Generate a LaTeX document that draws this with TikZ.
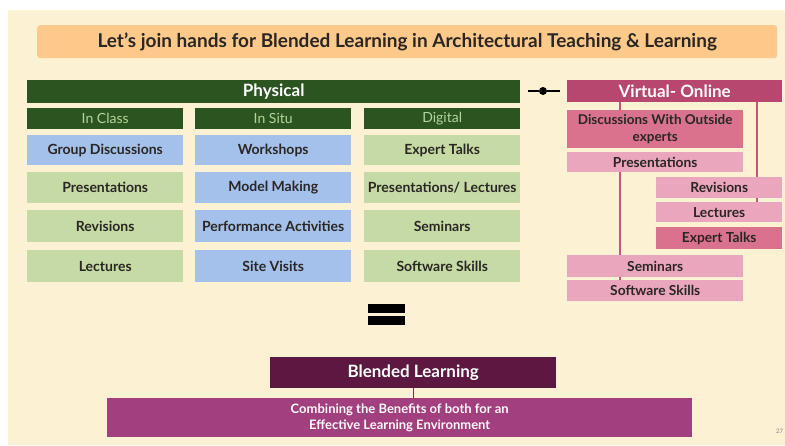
\documentclass[tikz,border=0pt]{standalone}
\usepackage{fontspec}
\setmainfont{Lato}
\usetikzlibrary{calc}
\definecolor{cream}{HTML}{FDF1D4}
\definecolor{titleor}{HTML}{FDC98B}
\definecolor{dkgreen}{HTML}{2C5421}
\definecolor{hdtext}{HTML}{B3D49A}
\definecolor{bluebox}{HTML}{A3C1EA}
\definecolor{grnbox}{HTML}{C6DAA5}
\definecolor{virt}{HTML}{B8476F}
\definecolor{pinkdk}{HTML}{D9728C}
\definecolor{pinklt}{HTML}{E9A6BC}
\definecolor{pinkln}{HTML}{C4557E}
\definecolor{blend}{HTML}{5C1840}
\definecolor{combine}{HTML}{A23F7E}
\definecolor{txt}{HTML}{2A2624}
\tikzset{
  box/.style={anchor=north west, inner sep=0pt, align=center, font=\bfseries\fontsize{14}{15}\selectfont, text=txt},
  hdr/.style={box, fill=dkgreen, text=hdtext, font=\fontsize{14}{15}\selectfont, minimum height=21pt},
  cell/.style={box, minimum width=156pt},
  vbox/.style={box, font=\bfseries\fontsize{13.8}{14.5}\selectfont},
  conn/.style={draw=pinkln, line width=1.4pt},
}
\begin{document}
\begin{tikzpicture}[x=1pt,y=-1pt]
\useasboundingbox (0,0) rectangle (785,445);
\fill[white] (0,0) rectangle (785,445);
\fill[cream] (8,10) rectangle (785,445);
% title
\node[box, fill=titleor, rounded corners=3pt, minimum width=740pt, minimum height=33pt,
  font=\bfseries\fontsize{19}{21}\selectfont] (title) at (37,25)
  {Let’s join hands for Blended Learning in Architectural Teaching \& Learning};
% physical
\node[box, fill=dkgreen, text=white, minimum width=493pt, minimum height=23pt,
  font=\bfseries\fontsize{17}{18}\selectfont] (phys) at (27,80) {Physical};
\node[hdr, minimum width=156pt] (hclass) at (27,108) {In Class};
\node[hdr, minimum width=156pt] (hsitu) at (195,108) {In Situ};
\node[hdr, minimum width=156pt] (hdig) at (364,108) {Digital};
% column 1
\node[cell, fill=bluebox, minimum height=30pt] (c11) at (27,135) {Group Discussions};
\node[cell, fill=grnbox, minimum height=31pt] (c12) at (27,172) {Presentations};
\node[cell, fill=grnbox, minimum height=32pt] (c13) at (27,210) {Revisions};
\node[cell, fill=grnbox, minimum height=32pt] (c14) at (27,250) {Lectures};
% column 2
\node[cell, fill=bluebox, minimum height=30pt] (c21) at (195,135) {Workshops};
\node[cell, fill=bluebox, minimum height=31pt] (c22) at (195,172) {Model Making};
\node[cell, fill=bluebox, minimum height=32pt] (c23) at (195,210) {Performance Activities};
\node[cell, fill=bluebox, minimum height=32pt] (c24) at (195,250) {Site Visits};
% column 3
\node[cell, fill=grnbox, minimum height=30pt] (c31) at (364,135) {Expert Talks};
\node[cell, fill=grnbox, minimum height=31pt] (c32) at (364,172) {Presentations/ Lectures};
\node[cell, fill=grnbox, minimum height=32pt] (c33) at (364,210) {Seminars};
\node[cell, fill=grnbox, minimum height=32pt] (c34) at (364,250) {Software Skills};
% link
\coordinate (la) at (528,91);
\coordinate (lb) at (560,91);
\node[circle, fill=black, inner sep=0pt, minimum size=8pt] (ldot) at (543,91) {};
\draw[line width=2pt] (la) -- (ldot) -- (lb);
% virtual
\node[box, fill=virt, text=white, minimum width=215pt, minimum height=22pt,
  font=\bfseries\fontsize{17}{18}\selectfont] (virt) at (567,80) {Virtual- Online};
\node[vbox, fill=pinkdk, minimum width=176pt, minimum height=38pt,
  font=\bfseries\fontsize{13.5}{17.5}\selectfont] (disc) at (567,110)
  {Discussions With Outside\\experts};
\node[vbox, fill=pinklt, minimum width=176pt, minimum height=20pt] (pres) at (567,152) {Presentations};
\node[vbox, fill=pinklt, minimum width=126pt, minimum height=21pt] (rev) at (656,177) {Revisions};
\node[vbox, fill=pinklt, minimum width=126pt, minimum height=20pt] (lec) at (656,202) {Lectures};
\node[vbox, fill=pinkdk, minimum width=126pt, minimum height=22pt] (ext) at (656,227) {Expert Talks};
\node[vbox, fill=pinklt, minimum width=176pt, minimum height=22pt] (sem) at (567,255) {Seminars};
\node[vbox, fill=pinklt, minimum width=176pt, minimum height=21pt] (soft) at (567,280) {Software Skills};
\draw[conn] ([xshift=53pt]virt.south west) -- ([xshift=53pt]disc.north west);
\draw[conn] ([xshift=53pt]pres.south west) -- ([xshift=53pt]sem.north west);
\draw[conn] ([xshift=53pt]sem.south west) -- ([xshift=53pt]soft.north west);
\draw[conn] ([xshift=190pt]virt.south west) -- ([xshift=101pt]rev.north west);
\draw[conn] ([xshift=101pt]rev.south west) -- ([xshift=101pt]lec.north west);
% equals
\node[fill=black, inner sep=0pt, minimum width=37pt, minimum height=9pt, anchor=north west] (eqa) at (368,304) {};
\node[fill=black, inner sep=0pt, minimum width=37pt, minimum height=9pt, anchor=north west] (eqb) at (368,316) {};
% blended
\node[box, fill=blend, text=white, minimum width=286pt, minimum height=31pt,
  font=\bfseries\fontsize{17}{18}\selectfont] (blendn) at (270,357) {Blended Learning};
\node[box, fill=combine, text=white!92!pink, minimum width=585pt, minimum height=39pt,
  font=\bfseries\fontsize{13}{15.5}\selectfont] (comb) at (107,398)
  {Combining the Benefits of both for an\\Effective Learning Environment};
\draw[draw=combine!70!black, line width=0.8pt] (blendn.south) -- (blendn.south |- comb.north);
% page number
\node[anchor=west, inner sep=0pt, text=gray, font=\fontsize{6}{7}\selectfont] (pg) at (776,431) {27};
\end{tikzpicture}
\end{document}
